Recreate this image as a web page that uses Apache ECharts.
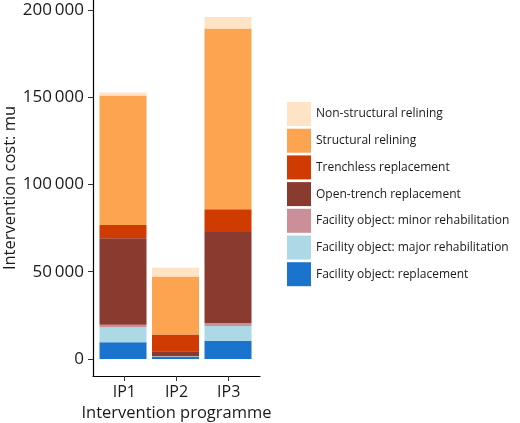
<!DOCTYPE html>
<html>
<head>
<meta charset="utf-8">
<script src="https://cdn.jsdelivr.net/npm/echarts@6/dist/echarts.min.js"></script>
<style>html,body{margin:0;padding:0;background:#fff}#c{width:520px;height:423px}</style>
</head>
<body>
<div id="c"></div>
<script>
const categories = ['IP1', 'IP2', 'IP3'];
const yTicks = [0, 50000, 100000, 150000, 200000];
const seriesNames = [
  'Facility object: replacement',
  'Facility object: major rehabilitation',
  'Facility object: minor rehabilitation',
  'Open-trench replacement',
  'Trenchless replacement',
  'Structural relining',
  'Non-structural relining'
];
const replacement = [9500, 1100, 10300];
const majorRehab = [8600, 400, 8600];
const minorRehab = [1500, 0, 1700];
const openTrench = [49600, 2900, 52200];
const trenchless = [7600, 9600, 13000];
const structural = [74200, 33200, 103700];
const nonStructural = [1700, 5000, 6500];
const seriesValues = [replacement, majorRehab, minorRehab, openTrench, trenchless, structural, nonStructural];
const colors = ['#1A73CD', '#ADD8E6', '#CB8F9A', '#8A3B30', '#D03B02', '#FDA450', '#FEE3C5'];

const font = '"Open Sans", "Noto Sans", sans-serif';
const chart = echarts.init(document.getElementById('c'), null, {renderer: 'canvas'});
const fmt = v => String(v).replace(/\B(?=(\d{3})+(?!\d))/g, '\u2009');
const yMin = -9800, yMax = 205800;
const txt = '#1a1a1a';

chart.setOption({
  animation: false,
  textStyle: {fontFamily: font},
  grid: [
    {left: 96.75, width: 157.5, top: 0, bottom: 47, containLabel: false, outerBoundsMode: 'none'},
    {left: 93, width: 167, top: 0, bottom: 47, containLabel: false, outerBoundsMode: 'none'}
  ],
  xAxis: [
    {
      type: 'category', gridIndex: 0, data: categories, show: false
    },
    {
      type: 'value', gridIndex: 1, min: 0.4, max: 3.6,
      name: 'Intervention programme', nameLocation: 'middle', nameGap: 26,
      nameTextStyle: {fontSize: 16.5, color: txt, fontFamily: font},
      axisLine: {show: true, onZero: false, lineStyle: {color: '#000', width: 1.2}},
      axisTick: {show: true, length: 5, customValues: [1, 2, 3], lineStyle: {color: '#333'}},
      axisLabel: {customValues: [1, 2, 3], formatter: v => categories[Math.round(v) - 1], fontSize: 16, color: txt, margin: 8, fontFamily: font},
      splitLine: {show: false}
    }
  ],
  yAxis: [
    {type: 'value', gridIndex: 0, min: yMin, max: yMax, show: false, splitLine: {show: false}},
    {
      type: 'value', gridIndex: 1, min: yMin, max: yMax,
      name: 'Intervention cost: mu', nameLocation: 'middle', nameGap: 74, nameRotate: 90,
      nameTextStyle: {fontSize: 16.5, color: txt, fontFamily: font},
      axisLine: {show: true, onZero: false, lineStyle: {color: '#000', width: 1.2}},
      axisTick: {show: true, length: 5, customValues: yTicks, lineStyle: {color: '#333'}},
      axisLabel: {customValues: yTicks, formatter: fmt, fontSize: 17, color: txt, margin: 9, fontFamily: font},
      splitLine: {show: false}
    }
  ],
  legend: {
    orient: 'vertical', left: 287, top: 102, padding: 0,
    itemWidth: 24, itemHeight: 24, itemGap: 2.7,
    icon: 'rect', selectedMode: false,
    data: seriesNames.slice().reverse(),
    textStyle: {fontSize: 12, color: txt, fontFamily: font}
  },
  series: seriesNames.map((name, i) => ({
    name: name, type: 'bar', stack: 'total', barWidth: 47,
    xAxisIndex: 0, yAxisIndex: 0,
    itemStyle: {color: colors[i]},
    data: seriesValues[i]
  }))
});
</script>
</body>
</html>
